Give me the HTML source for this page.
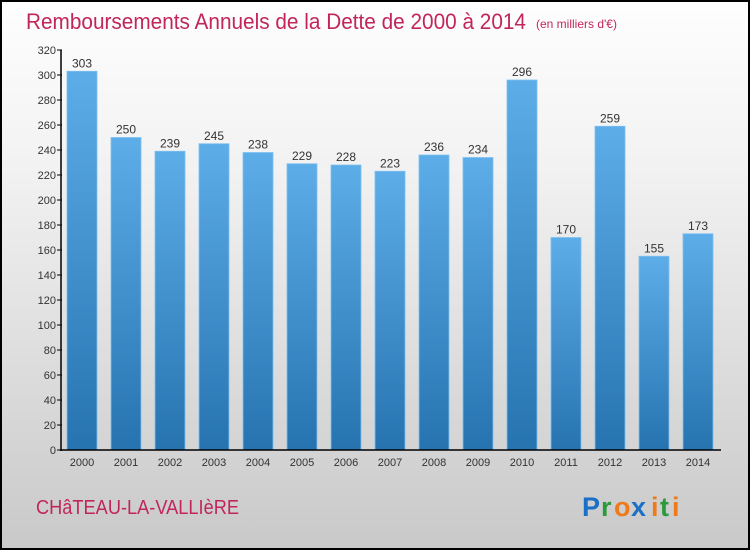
<!DOCTYPE html>
<html><head><meta charset="utf-8"><style>
body{margin:0;width:750px;height:550px;overflow:hidden;font-family:"Liberation Sans",sans-serif}
#wrap{position:absolute;left:0;top:0;width:746px;height:546px;border:2px solid #000;background:linear-gradient(#fefefe,#f2f2f2 30%,#c9c9c9)}
</style></head><body>
<div id="wrap"></div>
<svg id="c" width="750" height="550" style="position:absolute;left:0;top:0">
<defs><linearGradient id="g" x1="0" y1="0" x2="0" y2="1"><stop offset="0" stop-color="#5dade8"/><stop offset="1" stop-color="#2673b0"/></linearGradient></defs>
<text x="26" y="29" font-size="22" fill="#c2255c" textLength="500" lengthAdjust="spacingAndGlyphs">Remboursements Annuels de la Dette de 2000 à 2014</text>
<text x="536" y="28" font-size="12" fill="#c2255c">(en milliers d'€)</text>
<text x="36" y="514" font-size="20" fill="#c2255c" textLength="203" lengthAdjust="spacingAndGlyphs">CHâTEAU-LA-VALLIèRE</text>
<g font-size="27" font-weight="bold" font-family="Liberation Sans,sans-serif">
<text x="582" y="516" fill="#1a6fc7">P</text><text x="601" y="516" fill="#2a9a3a">r</text><text x="614" y="516" fill="#f07a1a">o</text><text x="631" y="516" fill="#1a6fc7">x</text><text x="651" y="516" fill="#f07a1a">i</text><text x="660" y="516" fill="#2a9a3a">t</text><text x="672" y="516" fill="#f07a1a">i</text></g>
</svg>
<script>
const years=["2000","2001","2002","2003","2004","2005","2006","2007","2008","2009","2010","2011","2012","2013","2014"];
const values=[303,250,239,245,238,229,228,223,236,234,296,170,259,155,173];
const ticks=[0,20,40,60,80,100,120,140,160,180,200,220,240,260,280,300,320];
const svg=document.getElementById('c');const NS='http://www.w3.org/2000/svg';
const y=v=>450-v*400/320;const x=i=>82+i*44;
function mk(t,a){const e=document.createElementNS(NS,t);for(const k in a)e.setAttribute(k,a[k]);svg.appendChild(e);return e;}
ticks.forEach(t=>{
const l=mk('line',{x1:57,x2:62,y1:y(t),y2:y(t),stroke:'#000'});


const tx=mk('text',{x:56,y:y(t)+4,'font-size':11,'text-anchor':'end',fill:'#333'});tx.textContent=t;


});
values.forEach((v,i)=>{
const r=mk('rect',{x:x(i)-15,y:y(v),width:30,height:450-y(v),fill:'url(#g)',stroke:'#7fc0f0','stroke-width':0.8});


const t=mk('text',{x:x(i),y:y(v)-4,'font-size':12,'text-anchor':'middle',fill:'#333'});t.textContent=v;


const yl=mk('text',{x:x(i),y:466,'font-size':11,'text-anchor':'middle',fill:'#333'});yl.textContent=years[i];


});
const ax=mk('line',{x1:61,x2:61,y1:y(320),y2:451,stroke:'#000','stroke-width':1.5});


const bx=mk('line',{x1:60,x2:721,y1:450,y2:450,stroke:'#000','stroke-width':1.5});


</script>
</body></html>
